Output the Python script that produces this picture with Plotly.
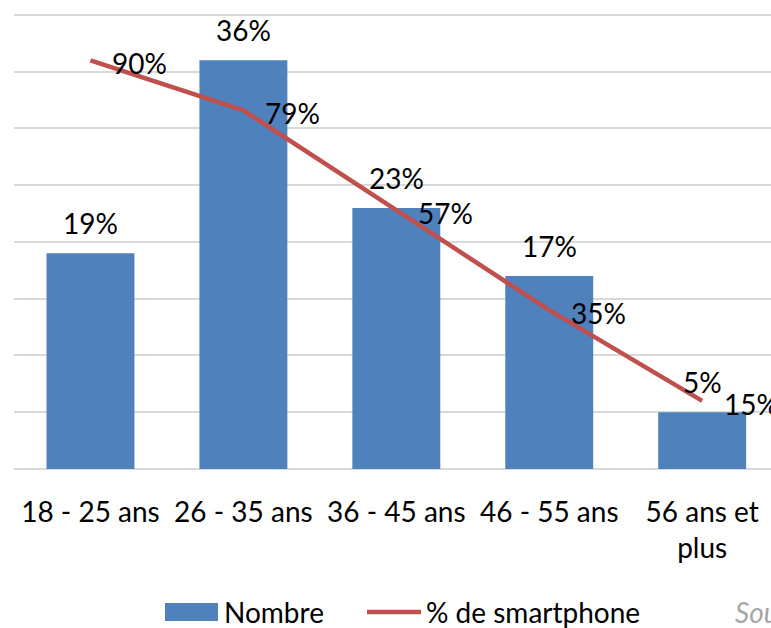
import plotly.graph_objects as go

categories = ["18 - 25 ans", "26 - 35 ans", "36 - 45 ans", "46 - 55 ans", "56 ans et<br>plus"]
nombre = [0.19, 0.36, 0.23, 0.17, 0.05]
smartphone = [0.90, 0.79, 0.57, 0.35, 0.15]

FONT = "Lato, Carlito, Calibri, sans-serif"
BLUE = "#4F81BD"
RED = "#C0504D"
FS = 28

fig = go.Figure()
fig.add_trace(go.Bar(
    x=categories, y=nombre, name="Nombre",
    marker=dict(color=BLUE, line=dict(width=0)),
    width=0.575, showlegend=False,
))
fig.add_trace(go.Scatter(
    x=categories, y=smartphone, name="% de smartphone", yaxis="y2",
    mode="lines", line=dict(color=RED, width=4.5), showlegend=False,
    cliponaxis=False,
))

annotations = []
for c, v in zip(categories, nombre):
    annotations.append(dict(x=c, y=v, xref="x", yref="y", text=f"{v:.0%}",
                            showarrow=False, xanchor="center", yanchor="middle",
                            yshift=30, font=dict(size=FS, family=FONT, color="#000000")))
for c, v in zip(categories, smartphone):
    annotations.append(dict(x=c, y=v, xref="x", yref="y2", text=f"{v:.0%}",
                            showarrow=False, xanchor="left", yanchor="middle",
                            xshift=20, yshift=-3, font=dict(size=FS, family=FONT, color="#000000")))

# custom legend (paper coordinates)
L, W, T, H = 14, 757, 12, 457
def px(x):
    return (x - L) / W
def py(y):
    return (T + H - y) / H

annotations += [
    dict(text="Nombre", xref="paper", yref="paper", x=px(222), y=py(612),
         xanchor="left", yanchor="middle", showarrow=False,
         font=dict(size=FS, family=FONT, color="#000000")),
    dict(text="% de smartphone", xref="paper", yref="paper", x=px(424), y=py(612),
         xanchor="left", yanchor="middle", showarrow=False,
         font=dict(size=FS, family=FONT, color="#000000")),
    dict(text="<i>Source</i>", xref="paper", yref="paper", x=px(733), y=py(612),
         xanchor="left", yanchor="middle", showarrow=False,
         font=dict(size=FS, family=FONT, color="#A6A6A6")),
]
shapes = [
    dict(type="rect", xref="paper", yref="paper", x0=px(165), x1=px(218),
         y0=py(621), y1=py(603), fillcolor=BLUE, line=dict(width=0)),
    dict(type="line", xref="paper", yref="paper", x0=px(367), x1=px(421),
         y0=py(612), y1=py(612), line=dict(color=RED, width=4.5)),
]

fig.update_layout(
    width=771, height=628,
    margin=dict(l=L, r=0, t=T, b=628 - T - H, autoexpand=False),
    paper_bgcolor="white", plot_bgcolor="white",
    font=dict(family=FONT, size=FS, color="#000000"),
    xaxis=dict(range=[-0.5, 4.45], showgrid=False, showline=False,
               ticks="", tickfont=dict(size=FS, family=FONT, color="#000000"),
               ticklabelstandoff=24),
    yaxis=dict(range=[0, 0.4026], dtick=0.05, showticklabels=False,
               gridcolor="#D9D9D9", gridwidth=2, zeroline=True,
               zerolinecolor="#D9D9D9", zerolinewidth=2, showline=False),
    yaxis2=dict(range=[0, 1.0066], overlaying="y", side="right",
                showgrid=False, showticklabels=False, zeroline=False),
    showlegend=False,
    annotations=annotations,
    shapes=shapes,
)

fig.write_html("out.html", config={"displayModeBar": False},
               post_script="document.body.style.margin='0';document.body.style.overflow='hidden';")
